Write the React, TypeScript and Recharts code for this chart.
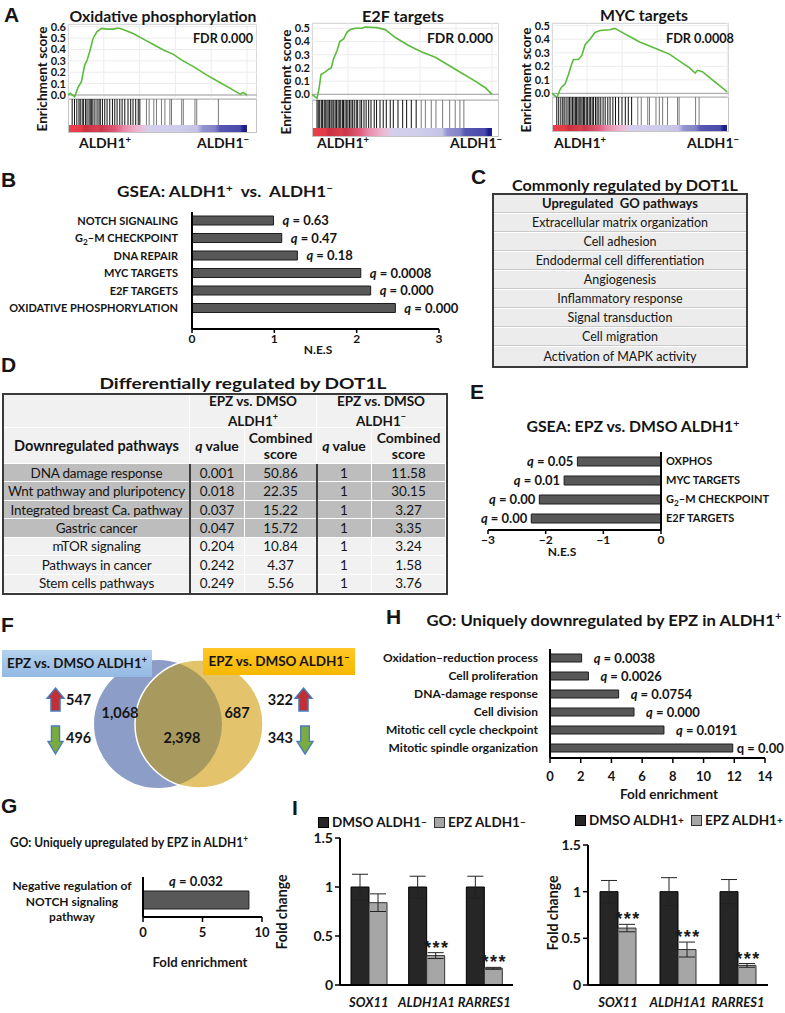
import React from 'react';
import {
  LineChart, Line, XAxis, YAxis, CartesianGrid, BarChart, Bar, Cell, LabelList, ErrorBar, Legend, ReferenceLine,
} from 'recharts';

const FONT = "Lato, 'Open Sans', 'DejaVu Sans', sans-serif";
const LETTER_FONT = "'Liberation Sans', Arial, sans-serif";
const INK = '#151515';

// ---------------- Panel A : running enrichment scores (rank %, ES) ----------------
const oxRank = [0, 1.3, 3.7, 5.6, 7.5, 9.3, 10.7, 12.1, 14.0, 16.1, 18.7, 21.5, 25.2, 28.0, 30.8, 36.4, 42.1, 47.7, 53.3, 58.9, 63.6, 70.1, 77.6, 84.1, 90.7, 96.3, 97.8, 100];
const oxES = [0.0, 0.015, -0.015, 0.067, 0.117, 0.263, 0.307, 0.38, 0.497, 0.556, 0.585, 0.579, 0.579, 0.588, 0.576, 0.541, 0.491, 0.444, 0.395, 0.357, 0.307, 0.249, 0.175, 0.117, 0.058, 0.006, 0.023, 0.0];
const oxHits = [2.4, 3.7, 5.0, 6.2, 6.9, 8.0, 8.8, 9.9, 10.7, 11.8, 12.5, 13.3, 14.0, 15.1, 16.3, 17.4, 18.1, 19.3, 20.6, 21.9, 23.4, 24.9, 26.2, 27.5, 29.0, 30.3, 31.8, 33.6, 35.1, 36.4, 37.9, 39.3, 40.2, 43.9, 45.4, 48.0, 49.5, 52.3, 54.2, 57.0, 57.9, 63.6, 64.5, 71.0, 72.0, 84.1];

const e2fRank = [0, 2.8, 4, 5, 7.4, 9.3, 10.7, 12, 13.9, 15.4, 17.6, 19.4, 21.3, 24, 27.8, 29.6, 36, 40.7, 46.3, 53.7, 61, 68.5, 75.9, 83.3, 90.7, 96.3, 100];
const e2fES = [0, -0.03, 0.05, 0.15, 0.17, 0.19, 0.2, 0.27, 0.33, 0.40, 0.42, 0.47, 0.49, 0.50, 0.50, 0.51, 0.505, 0.49, 0.43, 0.37, 0.32, 0.28, 0.22, 0.16, 0.10, 0.05, 0];
const e2fHits = [2.8, 3.5, 4.3, 5.2, 5.9, 6.8, 7.4, 8.3, 9.0, 9.8, 10.6, 11.2, 12.1, 12.9, 13.6, 14.5, 15.2, 16.0, 16.9, 17.5, 18.4, 19.3, 20.0, 20.9, 21.7, 22.6, 23.5, 24.6, 25.4, 26.7, 27.6, 28.9, 30.1, 31.5, 32.8, 34.6, 35.9, 37.8, 39.6, 41.3, 43.5, 45.2, 47.8, 50.4, 52.6, 55.2, 57.9, 60.7, 63.0, 66.3, 68.9, 72.6, 76.5, 79.6, 82.2, 84.4];

const mycRank = [0, 1.9, 2.8, 4.7, 5.7, 7.5, 9.4, 11.3, 12.3, 15.1, 17, 18.9, 21.7, 24.5, 27.4, 33, 35.8, 38.7, 44.3, 50, 55.7, 61.3, 67, 72.6, 78.3, 81.7, 83, 85.8, 91.5, 97.2, 100];
const mycES = [0, -0.02, -0.03, 0.03, 0.05, 0.07, 0.14, 0.22, 0.25, 0.25, 0.28, 0.36, 0.40, 0.45, 0.465, 0.47, 0.48, 0.46, 0.42, 0.38, 0.35, 0.32, 0.29, 0.24, 0.19, 0.15, 0.17, 0.16, 0.10, 0.04, 0.01];
const mycHits = [2.8, 3.9, 5.1, 6.2, 7.0, 8.1, 9.2, 10.0, 10.9, 11.8, 12.6, 13.4, 14.1, 14.9, 15.6, 16.5, 17.2, 18.0, 18.7, 19.6, 20.4, 21.3, 22.1, 23.0, 23.8, 24.9, 25.8, 26.8, 27.9, 29.2, 30.4, 31.9, 33.2, 34.8, 36.3, 38.1, 40.0, 41.9, 43.6, 45.5, 49.0, 51.0, 54.7, 55.7, 59.4, 61.3, 63.2, 66.0, 71.7, 72.6, 82.0, 84.0];

const esTicks6 = [0, 0.1, 0.2, 0.3, 0.4, 0.5, 0.6];
const esTicks5 = [0, 0.1, 0.2, 0.3, 0.4, 0.5];

// ---------------- Panel B ----------------
const bPathways = ['NOTCH SIGNALING', 'G2–M CHECKPOINT', 'DNA REPAIR', 'MYC TARGETS', 'E2F TARGETS', 'OXIDATIVE PHOSPHORYLATION'];
const bNES = [0.99, 1.09, 1.28, 2.05, 2.17, 2.47];
const bQ = ['0.63', '0.47', '0.18', '0.0008', '0.000', '0.000'];
const bTicks = [0, 1, 2, 3];

// ---------------- Panel C ----------------
const cHeader = 'Upregulated  GO pathways';
const cPathways = ['Extracellular matrix organization', 'Cell adhesion', 'Endodermal cell differentiation', 'Angiogenesis', 'Inflammatory response', 'Signal transduction', 'Cell migration', 'Activation of MAPK activity'];

// ---------------- Panel D ----------------
const dPathways = ['DNA damage response', 'Wnt pathway and pluripotency', 'Integrated breast Ca. pathway', 'Gastric cancer', 'mTOR signaling', 'Pathways in cancer', 'Stem cells pathways'];
const dQPos = ['0.001', '0.018', '0.037', '0.047', '0.204', '0.242', '0.249'];
const dScorePos = ['50.86', '22.35', '15.22', '15.72', '10.84', '4.37', '5.56'];
const dQNeg = ['1', '1', '1', '1', '1', '1', '1'];
const dScoreNeg = ['11.58', '30.15', '3.27', '3.35', '3.24', '1.58', '3.76'];
const dSignificant = [true, true, true, true, false, false, false];

// ---------------- Panel E ----------------
const ePathways = ['OXPHOS', 'MYC TARGETS', 'G2–M CHECKPOINT', 'E2F TARGETS'];
const eNES = [-1.45, -1.68, -2.11, -2.25];
const eQ = ['0.05', '0.01', '0.00', '0.00'];
const eTicks = [-3, -2, -1, 0];

// ---------------- Panel F ----------------
const vennCounts = [1068, 2398, 687];
const vennUp = [547, 322];
const vennDown = [496, 343];

// ---------------- Panel H ----------------
const hTerms = ['Oxidation–reduction process', 'Cell proliferation', 'DNA-damage response', 'Cell division', 'Mitotic cell cycle checkpoint', 'Mitotic spindle organization'];
const hFold = [2.06, 2.5, 4.47, 5.47, 7.42, 11.9];
const hQ = ['0.0038', '0.0026', '0.0754', '0.000', '0.0191', '0.00'];
const hTicks = [0, 2, 4, 6, 8, 10, 12, 14];

// ---------------- Panel G ----------------
const gTerms = ['Negative regulation of\nNOTCH signaling\npathway'];
const gFold = [8.9];
const gQ = ['0.032'];
const gTicks = [0, 5, 10];

// ---------------- Panel I ----------------
const iGenes = ['SOX11', 'ALDH1A1', 'RARRES1'];
const iNegDmso = [1, 1, 1];
const iNegDmsoErr = [0.13, 0.11, 0.11];
const iNegEpz = [0.84, 0.30, 0.17];
const iNegEpzErr = [0.09, 0.03, 0.01];
const iNegStars = ['', '***', '***'];
const iPosDmso = [1, 1, 1];
const iPosDmsoErr = [0.12, 0.15, 0.13];
const iPosEpz = [0.61, 0.38, 0.21];
const iPosEpzErr = [0.04, 0.08, 0.02];
const iPosStars = ['***', '***', '***'];
const iTicks = [0, 0.5, 1, 1.5];

// ================= helpers =================
const AXIS = { stroke: '#000', strokeWidth: 2 };
const TICKLINE = { stroke: '#000', strokeWidth: 1.5 };
const BAR_FILL = '#585858';
const BAR_STROKE = '#1c1c1c';

function Txt({ x, y, size = 13, w, anchor = 'middle', weight = 700, rot, italic, family, children, fill = INK }: any) {
  return (
    <text
      x={x}
      y={y + size * 0.35}
      fontSize={size}
      fontWeight={weight}
      fontStyle={italic ? 'italic' : undefined}
      textAnchor={anchor}
      fill={fill}
      fontFamily={family || FONT}
      textLength={w}
      lengthAdjust={w ? 'spacingAndGlyphs' : undefined}
      transform={rot ? `rotate(${rot} ${x} ${y})` : undefined}
      style={{ whiteSpace: 'pre' }}
    >
      {children}
    </text>
  );
}

const SupT = ({ s, size, back }: any) => (
  <>
    <tspan dy={-size * 0.38} fontSize={size * 0.68}>{s}</tspan>
    {back ? <tspan dy={size * 0.38}>{back}</tspan> : null}
  </>
);

function subLabel(v: string, size: number) {
  if (v.startsWith('G2')) {
    return [
      <tspan key="a">G</tspan>,
      <tspan key="b" dy={size * 0.28} fontSize={size * 0.75}>2</tspan>,
      <tspan key="c" dy={-size * 0.28}>{v.slice(2)}</tspan>,
    ];
  }
  return v;
}

const makeCatTick = (size: number) => (p: any) => (
  <text x={p.x} y={p.y + size * 0.35} textAnchor={p.textAnchor} fontSize={size} fontWeight={700} fill={INK} fontFamily={FONT}>
    {subLabel(String(p.payload.value), size)}
  </text>
);

function box(p: any) {
  const v = p.viewBox || {};
  const x = v.x ?? p.x, y = v.y ?? p.y, w = v.width ?? p.width, h = v.height ?? p.height;
  return { l: Math.min(x, x + w), r: Math.max(x, x + w), t: Math.min(y, y + h), b: Math.max(y, y + h) };
}

const qRight = (gap: number, plainLast?: number) => (p: any) => {
  const b = box(p);
  const plain = plainLast !== undefined && p.index === plainLast;
  return (
    <text x={b.r + (plain ? 4 : gap)} y={(b.t + b.b) / 2 + 13 * 0.35} fontSize={13} fontWeight={700} fill={INK} fontFamily={FONT} style={{ whiteSpace: 'pre' }}>
      <tspan fontStyle={plain ? 'normal' : 'italic'}>q</tspan>
      <tspan>{` = ${p.value}`}</tspan>
    </text>
  );
};

const qLeft = (gap: number) => (p: any) => {
  const b = box(p);
  return (
    <text x={b.l - gap} y={(b.t + b.b) / 2 + 13 * 0.35} textAnchor="end" fontSize={13} fontWeight={700} fill={INK} fontFamily={FONT} style={{ whiteSpace: 'pre' }}>
      <tspan fontStyle="italic">q</tspan>
      <tspan>{` = ${p.value}`}</tspan>
    </text>
  );
};

const qTop = (p: any) => {
  const b = box(p);
  return (
    <text x={(b.l + b.r) / 2} y={b.t - 5} textAnchor="middle" fontSize={13} fontWeight={700} fill={INK} fontFamily={FONT} style={{ whiteSpace: 'pre' }}>
      <tspan fontStyle="italic">q</tspan>
      <tspan>{` = ${p.value}`}</tspan>
    </text>
  );
};

// ================= Panel A component =================
const COLORBAR = 'linear-gradient(to right, #e8414c 0%, #e23a46 7%, #c9303f 9%, #d84050 16%, #c83848 18%, #e05a78 26%, #e88aaa 31%, #ecb3cd 38%, #e6c4dc 42%, #d2d0ec 44%, #cfcdea 60%, #c6c4e6 72%, #9494d2 75%, #8282c8 82%, #5656b2 85%, #4a4aac 96%, #1e1e8c 98%, #1e1e8c 100%)';

function GseaPanel(p: any) {
  const axisW = 34;
  const w = p.right - p.left;
  const esH = p.esBottom - p.top;
  const data = p.rank.map((r: number, i: number) => ({ r, es: p.es[i] }));
  const hitData = p.hits.map((h: number) => ({ r: h, v: 1 }));
  const curveW = (w * 100) / p.xMax;
  return (
    <>
      <div style={{ position: 'absolute', left: p.left, top: p.top, width: w, height: esH, border: '1px solid #c4c4c4', boxSizing: 'border-box' }} />
      <div style={{ position: 'absolute', left: p.left - axisW, top: p.top - 6 }}>
        <LineChart width={w + axisW} height={esH + 12} data={data} margin={{ top: 6, right: 0, bottom: 6, left: 0 }}>
          <CartesianGrid stroke="#ececec" />
          <XAxis type="number" dataKey="r" domain={[0, p.xMax]} ticks={[20, 40, 60, 80, 100]} hide />
          <YAxis type="number" domain={[p.yMin, p.yMax]} ticks={p.ticks} allowDataOverflow width={axisW} tickLine={false} axisLine={false} tickSize={0} tickMargin={2} interval={0}
            tick={{ fontSize: 11, fontWeight: 700, fill: INK }} tickFormatter={(v: number) => v.toFixed(1)} />
          <ReferenceLine y={0} stroke="#a0a0a0" strokeWidth={1} />
          <Line dataKey="es" type="linear" stroke="#5bbb3c" strokeWidth={1.6} dot={false} isAnimationActive={false} />
        </LineChart>
      </div>
      <div style={{ position: 'absolute', left: p.left, top: p.esBottom, width: w, height: p.barBottom - p.esBottom, border: '1px solid #c4c4c4', boxSizing: 'border-box' }} />
      <div style={{ position: 'absolute', left: p.left, top: p.esBottom }}>
        <BarChart width={w} height={p.hitsBottom - p.esBottom} data={hitData} margin={{ top: 0, right: 0, bottom: 0, left: 0 }}>
          <XAxis type="number" dataKey="r" domain={[0, p.xMax]} hide />
          <YAxis type="number" domain={[0, 1]} hide />
          <Bar dataKey="v" barSize={1} isAnimationActive={false}>
            {hitData.map((h: any, i: number) => (
              <Cell key={i} fill={h.r < p.grayFrom ? '#101010' : '#7a7a7a'} />
            ))}
          </Bar>
        </BarChart>
      </div>
      <div style={{ position: 'absolute', left: p.left + 1, top: p.hitsBottom, width: curveW - 1, height: p.barBottom - p.hitsBottom - 1, background: COLORBAR }} />
    </>
  );
}

// ================= Tables =================
function TableC() {
  const rows = [cHeader, ...cPathways];
  const rh = 171 / rows.length;
  return (
    <div style={{ position: 'absolute', left: 492, top: 193, width: 256, height: 175, border: '2px solid #3a3a3a', boxSizing: 'border-box', background: '#fff' }}>
      {rows.map((r, i) => (
        <div key={i} style={{
          position: 'absolute', left: 0, top: i * rh, width: 252, height: rh - (i < rows.length - 1 ? 1.5 : 0),
          background: '#ececec', display: 'flex', alignItems: 'center', justifyContent: 'center',
          fontSize: i === 0 ? 13 : 12.5, fontWeight: i === 0 ? 700 : 400, color: INK, whiteSpace: 'pre',
          borderBottom: i < rows.length - 1 ? '1px solid #c9c9c9' : 'none', boxSizing: 'border-box',
        }}>{r}</div>
      ))}
    </div>
  );
}

function TableD() {
  const cw = [186, 55, 72, 55, 74];
  const cx = [0, 186, 241, 313, 368];
  const h1 = 33, h2 = 36, rh = 129 / 7;
  const LIGHT = '#f1f1f1', DARK = '#bdbdbd';
  const cell = (key: string, x: number, y: number, w: number, h: number, bg: string, content: any, extra: any = {}) => (
    <div key={key} style={{
      position: 'absolute', left: x, top: y, width: w - 1, height: h - 1, background: bg,
      display: 'flex', alignItems: 'center', justifyContent: 'center', textAlign: 'center', color: INK, ...extra,
    }}>{content}</div>
  );
  const cells: any[] = [];
  const HB = { fontWeight: 700, fontSize: 13.5, lineHeight: '16px' };
  cells.push(cell('h0', 0, 0, cw[0], h1, LIGHT, ''));
  cells.push(cell('h1', cx[1], 0, cw[1] + cw[2], h1, LIGHT, <span>EPZ vs. DMSO<br />ALDH1<sup style={{ fontSize: 9 }}>+</sup></span>, HB));
  cells.push(cell('h2', cx[3], 0, cw[3] + cw[4], h1, LIGHT, <span>EPZ vs. DMSO<br />ALDH1<sup style={{ fontSize: 9 }}>−</sup></span>, HB));
  cells.push(cell('s0', 0, h1, cw[0], h2, LIGHT, 'Downregulated pathways', { ...HB, fontSize: 14.5 }));
  cells.push(cell('s1', cx[1], h1, cw[1], h2, LIGHT, <span><i>q</i> value</span>, { ...HB, fontSize: 14 }));
  cells.push(cell('s2', cx[2], h1, cw[2], h2, LIGHT, <span>Combined<br />score</span>, { ...HB, fontSize: 14 }));
  cells.push(cell('s3', cx[3], h1, cw[3], h2, LIGHT, <span><i>q</i> value</span>, { ...HB, fontSize: 14 }));
  cells.push(cell('s4', cx[4], h1, cw[4], h2, LIGHT, <span>Combined<br />score</span>, { ...HB, fontSize: 14 }));
  dPathways.forEach((name, i) => {
    const y = h1 + h2 + i * rh;
    const bg = dSignificant[i] ? DARK : LIGHT;
    const vals = [name, dQPos[i], dScorePos[i], dQNeg[i], dScoreNeg[i]];
    vals.forEach((v, j) => {
      cells.push(cell(`r${i}c${j}`, cx[j], y, cw[j], rh, bg, v, { fontSize: 13.5, whiteSpace: 'nowrap', letterSpacing: j === 0 ? -0.2 : 0 }));
    });
  });
  return (
    <div style={{ position: 'absolute', left: 2, top: 393, width: 446, height: 202, border: '2px solid #3a3a3a', boxSizing: 'border-box', background: '#fff' }}>
      {cells}
      <div style={{ position: 'absolute', left: cx[1] - 1.5, top: h1 + h2, width: 2, height: 129, background: '#3a3a3a' }} />
      <div style={{ position: 'absolute', left: cx[3] - 1.5, top: h1 + h2, width: 2, height: 129, background: '#3a3a3a' }} />
    </div>
  );
}

// ================= Panel I component =================
const starLabel = (p: any) => {
  const b = box(p);
  const raw = String(p.value || '');
  if (!raw) return null;
  const [s, ratio] = raw.split('|');
  const errPx = Number(ratio) * (b.b - b.t);
  return (
    <text x={(b.l + b.r) / 2 + 1} y={b.t - errPx + 1} textAnchor="middle" fontSize={18} fontWeight={700} fill="#1a1a1a" fontFamily={LETTER_FONT} letterSpacing={1.5}>{s}</text>
  );
};

function LegendBox({ h, items }: any) {
  return (
    <div style={{ height: h, display: 'flex', alignItems: 'flex-start', fontFamily: FONT, fontWeight: 700, fontSize: 13.5, color: INK, whiteSpace: 'nowrap', lineHeight: '16px' }}>
      {items.map((it: any, i: number) => (
        <span key={i} style={{ display: 'inline-flex', alignItems: 'center', marginRight: 7 }}>
          <span style={{ display: 'inline-block', width: 11, height: 11, background: it.fill, border: `1px solid ${it.stroke}`, marginRight: 3, boxSizing: 'border-box' }} />
          {it.label}<sup style={{ fontSize: 10, lineHeight: 0 }}>{it.sup}</sup>
        </span>
      ))}
    </div>
  );
}

function IChart({ left, top, width, yW, mRight, mTop, legendH, legendLeft, dmso, dmsoErr, epz, epzErr, stars, sup }: any) {
  const data = iGenes.map((g, i) => ({
    g, d: dmso[i], de: dmsoErr[i], e: epz[i], ee: epzErr[i],
    s: stars[i] ? `${stars[i]}|${epzErr[i] / epz[i]}` : '',
  }));
  const items = [
    { label: 'DMSO ALDH1', sup, fill: '#262626', stroke: '#000' },
    { label: 'EPZ ALDH1', sup, fill: '#a6a6a6', stroke: '#333' },
  ];
  return (
    <div style={{ position: 'absolute', left, top }}>
      <BarChart width={width} height={201} data={data} margin={{ top: mTop, right: mRight, bottom: 4, left: 0 }} barGap={0} barSize={18}>
        <Legend verticalAlign="top" align="left" wrapperStyle={{ left: legendLeft, top: mTop }} content={() => <LegendBox h={legendH} items={items} />} />
        <XAxis dataKey="g" interval={0} tickLine={false} tickSize={6} tickMargin={7} height={22} axisLine={AXIS}
          tick={{ fontSize: 13, fontWeight: 700, fontStyle: 'italic', fill: INK }} />
        <YAxis type="number" domain={[0, 1.5]} ticks={iTicks} interval={0} width={yW} tickSize={5} tickMargin={2} axisLine={AXIS} tickLine={TICKLINE}
          tick={{ fontSize: 14, fontWeight: 700, fill: INK }} />
        <Bar dataKey="d" fill="#262626" stroke="#000" strokeWidth={1} isAnimationActive={false}>
          <ErrorBar dataKey="de" width={8} stroke="#222" strokeWidth={1} />
        </Bar>
        <Bar dataKey="e" fill="#a6a6a6" stroke="#333" strokeWidth={1} isAnimationActive={false}>
          <ErrorBar dataKey="ee" width={8} stroke="#222" strokeWidth={1} />
          <LabelList dataKey="s" content={starLabel} />
        </Bar>
      </BarChart>
    </div>
  );
}

// ================= Venn helpers =================
function BlockArrow({ x, y, w, h, up, fill }: any) {
  const head = h * 0.45, sh = w * 0.27, cx = x + w / 2;
  const pts = up
    ? [[cx, y], [x + w, y + head], [cx + sh, y + head], [cx + sh, y + h], [cx - sh, y + h], [cx - sh, y + head], [x, y + head]]
    : [[cx, y + h], [x + w, y + h - head], [cx + sh, y + h - head], [cx + sh, y], [cx - sh, y], [cx - sh, y + h - head], [x, y + h - head]];
  return <polygon points={pts.map((q) => q.join(',')).join(' ')} fill={fill} stroke="#4a7ebb" strokeWidth={1.4} />;
}

const VENN = { bx: 158, yx: 199, cy: 724, r: 64 };

function Venn() {
  const { bx, yx, cy, r } = VENN;
  const a = (yx - bx) / 2;
  const hh = Math.sqrt(r * r - a * a);
  const ix = bx + a;
  const lens = `M${ix} ${cy - hh} A${r} ${r} 0 0 1 ${ix} ${cy + hh} A${r} ${r} 0 0 1 ${ix} ${cy - hh} Z`;
  const fmt = (n: number) => n.toLocaleString('en-US');
  return (
    <g>
      <defs>
        <linearGradient id="blueBox" x1="0" y1="0" x2="0" y2="1">
          <stop offset="0" stopColor="#b5d1ee" />
          <stop offset="1" stopColor="#92b9e2" />
        </linearGradient>
        <linearGradient id="yelBox" x1="0" y1="0" x2="0" y2="1">
          <stop offset="0" stopColor="#ffc727" />
          <stop offset="1" stopColor="#f6b800" />
        </linearGradient>
      </defs>
      <circle cx={bx} cy={cy} r={r} fill="#8c9ec8" />
      <circle cx={yx} cy={cy} r={r} fill="#e3c46c" />
      <path d={lens} fill="#a89a5e" />
      <circle cx={yx} cy={cy} r={r} fill="none" stroke="#ffffff" strokeWidth={1.5} />
      <rect x={2} y={650} width={150} height={27} fill="url(#blueBox)" />
      <rect x={203} y={648} width={152} height={27} fill="url(#yelBox)" />
      <Txt x={77} y={663} size={13.5} w={140}>EPZ vs. DMSO ALDH1<SupT s="+" size={13.5} /></Txt>
      <Txt x={279} y={661} size={13.5} w={141}>EPZ vs. DMSO ALDH1<SupT s="−" size={13.5} /></Txt>
      <BlockArrow x={47} y={688} w={17} h={23} up fill="#c0303a" />
      <BlockArrow x={48} y={726} w={15} h={28} fill="#79ab3e" />
      <BlockArrow x={295} y={688} w={17} h={23} up fill="#c0303a" />
      <BlockArrow x={297} y={726} w={16} h={28} fill="#79ab3e" />
      <Txt x={66} y={700} size={14.5} anchor="start">{vennUp[0]}</Txt>
      <Txt x={66} y={738} size={14.5} anchor="start">{vennDown[0]}</Txt>
      <Txt x={293} y={700} size={14.5} anchor="end">{vennUp[1]}</Txt>
      <Txt x={293} y={738} size={14.5} anchor="end">{vennDown[1]}</Txt>
      <Txt x={120} y={713} size={14.5}>{fmt(vennCounts[0])}</Txt>
      <Txt x={182} y={738} size={14.5}>{fmt(vennCounts[1])}</Txt>
      <Txt x={237} y={713} size={14.5}>{fmt(vennCounts[2])}</Txt>
    </g>
  );
}

// ================= App =================
export default function App() {
  const bData = bPathways.map((p, i) => ({ p, v: bNES[i], q: bQ[i] }));
  const eData = ePathways.map((p, i) => ({ p, v: eNES[i], q: eQ[i] }));
  const hData = hTerms.map((t, i) => ({ t, v: hFold[i], q: hQ[i] }));
  const gData = gTerms.map((t, i) => ({ t, v: gFold[i], q: gQ[i] }));
  const xTick = { fontSize: 12, fontWeight: 700, fill: INK };

  const GTick = (p: any) => {
    const lines = String(p.payload.value).split('\n');
    return (
      <text x={72} y={p.y} textAnchor="middle" fontSize={12} fontWeight={700} fill={INK} fontFamily={FONT}>
        {lines.map((l, i) => <tspan key={i} x={72} dy={i === 0 ? -10 : 15.5}>{l}</tspan>)}
      </text>
    );
  };

  return (
    <div style={{ position: 'absolute', left: 0, top: 0, width: 785, height: 1013, background: '#fff', fontFamily: FONT, overflow: 'hidden' }}>
      {/* Panel A */}
      <GseaPanel rank={oxRank} es={oxES} hits={oxHits} grayFrom={43} left={68} right={257} top={24} esBottom={99}
        yMin={-0.035} yMax={0.624} ticks={esTicks6} xMax={105.6} hitsBottom={125} barBottom={133} />
      <GseaPanel rank={e2fRank} es={e2fES} hits={e2fHits} grayFrom={60} left={312} right={499} top={23} esBottom={100}
        yMin={-0.043} yMax={0.54} ticks={esTicks5} xMax={103.9} hitsBottom={128} barBottom={137} />
      <GseaPanel rank={mycRank} es={mycES} hits={mycHits} grayFrom={47} left={552} right={729} top={23} esBottom={97}
        yMin={-0.027} yMax={0.52} ticks={esTicks5} xMax={101} hitsBottom={125} barBottom={132} />

      {/* Panel B */}
      <div style={{ position: 'absolute', left: 0, top: 200 }}>
        <BarChart layout="vertical" width={480} height={152} data={bData} margin={{ top: 12, right: 41, bottom: 5, left: 0 }}>
          <XAxis type="number" domain={[0, 3]} ticks={bTicks} interval={0} height={18} tickSize={4} tickMargin={1} axisLine={AXIS} tickLine={TICKLINE} tick={xTick} />
          <YAxis type="category" dataKey="p" width={192} interval={0} tickSize={6} tickMargin={8} tickLine={false} axisLine={AXIS}
            padding={{ top: 0, bottom: 12 }} tick={makeCatTick(11)} />
          <Bar dataKey="v" fill={BAR_FILL} stroke={BAR_STROKE} strokeWidth={1} barSize={9} isAnimationActive={false}>
            <LabelList dataKey="q" content={qRight(9)} />
          </Bar>
        </BarChart>
      </div>

      {/* Panel C */}
      <TableC />

      {/* Panel D */}
      <TableD />

      {/* Panel E */}
      <div style={{ position: 'absolute', left: 470, top: 440 }}>
        <BarChart layout="vertical" width={311} height={113} data={eData} margin={{ top: 12, right: 0, bottom: 5, left: 18 }}>
          <XAxis type="number" domain={[-3, 0]} ticks={eTicks} interval={0} height={18} tickSize={4} tickMargin={1} axisLine={AXIS} tickLine={TICKLINE}
            tick={xTick} tickFormatter={(v: number) => String(v).replace('-', '−')} />
          <YAxis type="category" dataKey="p" orientation="right" width={120} interval={0} tickSize={3} tickMargin={2} tickLine={false} axisLine={AXIS}
            padding={{ top: 0, bottom: 2 }} tick={makeCatTick(11)} />
          <Bar dataKey="v" fill={BAR_FILL} stroke={BAR_STROKE} strokeWidth={1} barSize={9} isAnimationActive={false}>
            <LabelList dataKey="q" content={qLeft(4)} />
          </Bar>
        </BarChart>
      </div>

      {/* Panel H */}
      <div style={{ position: 'absolute', left: 380, top: 640 }}>
        <BarChart layout="vertical" width={405} height={150} data={hData} margin={{ top: 9, right: 20, bottom: 0, left: 0 }}>
          <XAxis type="number" domain={[0, 14]} ticks={hTicks} interval={0} height={32} tickSize={5} tickMargin={9} axisLine={AXIS} tickLine={TICKLINE}
            tick={{ fontSize: 13, fontWeight: 700, fill: INK }} />
          <YAxis type="category" dataKey="t" width={170} interval={0} tickSize={6} tickMargin={6} tickLine={false} axisLine={AXIS}
            padding={{ top: 0, bottom: 1 }} tick={makeCatTick(12)} />
          <Bar dataKey="v" fill={BAR_FILL} stroke={BAR_STROKE} strokeWidth={1} barSize={8} isAnimationActive={false}>
            <LabelList dataKey="q" content={qRight(12, 5)} />
          </Bar>
        </BarChart>
      </div>

      {/* Panel G */}
      <div style={{ position: 'absolute', left: 0, top: 870 }}>
        <BarChart layout="vertical" width={290} height={72} data={gData} margin={{ top: 7, right: 28, bottom: 0, left: 0 }}>
          <XAxis type="number" domain={[0, 10]} ticks={gTicks} interval={0} height={25} tickSize={5} tickMargin={6} axisLine={AXIS} tickLine={TICKLINE}
            tick={{ fontSize: 13, fontWeight: 700, fill: INK }} />
          <YAxis type="category" dataKey="t" width={143} interval={0} tickSize={6} tickMargin={6} tickLine={false} axisLine={AXIS}
            padding={{ top: 6, bottom: 0 }} tick={GTick} />
          <Bar dataKey="v" fill={BAR_FILL} stroke={BAR_STROKE} strokeWidth={1} barSize={18} isAnimationActive={false}>
            <LabelList dataKey="q" content={qTop} />
          </Bar>
        </BarChart>
      </div>

      {/* Panel I */}
      <IChart left={280} top={810} width={240} yW={60} mRight={7} mTop={4} legendH={24} legendLeft={38}
        dmso={iNegDmso} dmsoErr={iNegDmsoErr} epz={iNegEpz} epzErr={iNegEpzErr} stars={iNegStars} sup="−" />
      <IChart left={530} top={810} width={250} yW={58} mRight={12} mTop={2} legendH={33} legendLeft={45}
        dmso={iPosDmso} dmsoErr={iPosDmsoErr} epz={iPosEpz} epzErr={iPosEpzErr} stars={iPosStars} sup="+" />

      {/* Overlay: letters, titles, axis titles, Venn */}
      <svg width={785} height={1013} style={{ position: 'absolute', left: 0, top: 0, pointerEvents: 'none' }}>
        <Venn />
        {[['A', 4, 15], ['B', 1, 180], ['C', 471, 177], ['D', 1, 365], ['E', 470, 392], ['F', 1, 625], ['H', 386, 617], ['G', 1, 806], ['I', 292, 808]].map(([l, x, y]: any) => (
          <Txt key={l} x={x} y={y} size={21} anchor="start" family={LETTER_FONT}>{l}</Txt>
        ))}
        <Txt x={163} y={16} size={16} w={187}>Oxidative phosphorylation</Txt>
        <Txt x={403} y={16} size={16} w={82}>E2F targets</Txt>
        <Txt x={644} y={15} size={16} w={88}>MYC targets</Txt>
        <Txt x={223} y={38} size={13} w={60}>FDR 0.000</Txt>
        <Txt x={460} y={38} size={13} w={66}>FDR 0.000</Txt>
        <Txt x={700} y={38} size={13} w={68}>FDR 0.0008</Txt>
        <Txt x={42} y={79} size={14} w={105} rot={-90}>Enrichment score</Txt>
        <Txt x={286} y={82} size={14} w={105} rot={-90}>Enrichment score</Txt>
        <Txt x={526} y={80} size={14} w={105} rot={-90}>Enrichment score</Txt>
        <Txt x={105} y={143} size={14}>ALDH1<SupT s="+" size={14} /></Txt>
        <Txt x={223} y={143} size={14}>ALDH1<SupT s="−" size={14} /></Txt>
        <Txt x={343} y={143} size={14}>ALDH1<SupT s="+" size={14} /></Txt>
        <Txt x={476} y={143} size={14}>ALDH1<SupT s="−" size={14} /></Txt>
        <Txt x={580} y={143} size={14}>ALDH1<SupT s="+" size={14} /></Txt>
        <Txt x={713} y={143} size={14}>ALDH1<SupT s="−" size={14} /></Txt>

        <Txt x={225} y={192} size={15} w={216}>GSEA: ALDH1<SupT s="+" size={15} back="  vs.  ALDH1" /><SupT s="−" size={15} /></Txt>
        <Txt x={318} y={350} size={12}>N.E.S</Txt>
        <Txt x={625} y={185} size={16} w={226}>Commonly regulated by DOT1L</Txt>
        <Txt x={243} y={383} size={16} w={287}>Differentially regulated by DOT1L</Txt>
        <Txt x={633} y={427} size={15} w={213}>GSEA: EPZ vs. DMSO ALDH1<SupT s="+" size={15} /></Txt>
        <Txt x={562} y={552} size={12}>N.E.S</Txt>
        <Txt x={604} y={620} size={16} w={355}>GO: Uniquely downregulated by EPZ in ALDH1<SupT s="+" size={16} /></Txt>
        <Txt x={669} y={794} size={13} w={98}>Fold enrichment</Txt>
        <Txt x={129} y={842} size={13} w={238}>GO: Uniquely upregulated by EPZ in ALDH1<SupT s="+" size={13} /></Txt>
        <Txt x={200} y={962} size={13} w={95}>Fold enrichment</Txt>
        <Txt x={282} y={912} size={15} w={75} rot={-90}>Fold change</Txt>
        <Txt x={553} y={913} size={15} w={75} rot={-90}>Fold change</Txt>
      </svg>
    </div>
  );
}
